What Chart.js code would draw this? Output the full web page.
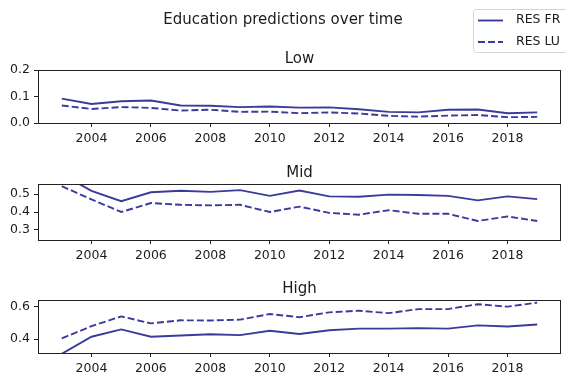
<!DOCTYPE html>
<html>
<head>
<meta charset="utf-8">
<script src="https://cdn.jsdelivr.net/npm/chart.js@4/dist/chart.umd.min.js"></script>
<style>
  html, body { margin: 0; padding: 0; background: #fff; }
  #fig { position: relative; width: 566px; height: 375px; overflow: hidden; }
  #fig canvas { position: absolute; left: 0; }
</style>
</head>
<body>
<div id="fig">
  <canvas id="pLow" width="566" height="150" style="top:0px"></canvas>
  <canvas id="pMid" width="566" height="120" style="top:150px"></canvas>
  <canvas id="pHigh" width="566" height="105" style="top:270px"></canvas>
</div>
<script>
// Years on the x axis
const years = [2003, 2004, 2005, 2006, 2007, 2008, 2009, 2010, 2011,
               2012, 2013, 2014, 2015, 2016, 2017, 2018, 2019];
const yearTicks = [2004, 2006, 2008, 2010, 2012, 2014, 2016, 2018];

// Predicted shares per education level
const lowFR  = [0.092, 0.072, 0.082, 0.085, 0.066, 0.065, 0.060, 0.062, 0.058,
                0.059, 0.052, 0.042, 0.040, 0.050, 0.051, 0.037, 0.040];
const lowLU  = [0.066, 0.053, 0.060, 0.057, 0.047, 0.050, 0.042, 0.043, 0.037,
                0.040, 0.036, 0.027, 0.024, 0.028, 0.030, 0.022, 0.023];
const midFR  = [0.610, 0.518, 0.460, 0.510, 0.518, 0.512, 0.522, 0.490, 0.520,
                0.487, 0.485, 0.497, 0.495, 0.490, 0.465, 0.487, 0.472];
const midLU  = [0.544, 0.470, 0.400, 0.450, 0.440, 0.437, 0.440, 0.400, 0.430,
                0.395, 0.385, 0.410, 0.390, 0.390, 0.350, 0.375, 0.350];
const highFR = [0.310, 0.415, 0.460, 0.415, 0.423, 0.430, 0.425, 0.452, 0.432,
                0.455, 0.465, 0.465, 0.468, 0.465, 0.485, 0.478, 0.490];
const highLU = [0.405, 0.480, 0.540, 0.497, 0.516, 0.515, 0.520, 0.555, 0.535,
                0.565, 0.575, 0.560, 0.585, 0.585, 0.615, 0.600, 0.625];

// Y tick labels per panel
const lowTicks  = [0.0, 0.1, 0.2];
const midTicks  = [0.3, 0.4, 0.5];
const highTicks = [0.4, 0.6];

const seriesNames = ['RES FR', 'RES LU'];
const lineColor = '#3b3b9c';
const textColor = '#1c1c1c';
const fontFamily = '"DejaVu Sans", sans-serif';

const PLOT_LEFT = 38;
const PLOT_RIGHT = 561;

// Panel title + full frame around the plot area
const framePlugin = {
  id: 'frame',
  afterDraw(chart, args, opts) {
    const { ctx, chartArea: a } = chart;
    ctx.save();
    ctx.strokeStyle = '#222';
    ctx.lineWidth = 1;
    ctx.strokeRect(a.left + 0.5, a.top + 0.5, a.right - a.left - 1, a.bottom - a.top);
    ctx.fillStyle = textColor;
    ctx.font = '15px ' + fontFamily;
    ctx.textAlign = 'center';
    ctx.textBaseline = 'alphabetic';
    ctx.fillText(opts.title, (a.left + a.right) / 2, a.top - 7.5);
    ctx.restore();
  }
};

// Figure title and legend, drawn on the top panel
const figureDecor = {
  id: 'figureDecor',
  afterDraw(chart) {
    const ctx = chart.ctx;
    ctx.save();
    ctx.fillStyle = textColor;
    ctx.font = '15px ' + fontFamily;
    ctx.textAlign = 'center';
    ctx.textBaseline = 'alphabetic';
    ctx.fillText('Education predictions over time', 283, 24);

    // legend frame
    ctx.beginPath();
    ctx.roundRect(473.5, 9.5, 100, 43, 3);
    ctx.fillStyle = 'rgba(255,255,255,0.8)';
    ctx.fill();
    ctx.strokeStyle = '#d4d4d4';
    ctx.lineWidth = 1;
    ctx.stroke();

    const rows = [20.5, 42];
    chart.data.datasets.forEach((ds, i) => {
      ctx.beginPath();
      ctx.setLineDash(ds.borderDash || []);
      ctx.strokeStyle = ds.borderColor;
      ctx.lineWidth = ds.borderWidth;
      ctx.moveTo(478, rows[i]);
      ctx.lineTo(503, rows[i]);
      ctx.stroke();
      ctx.setLineDash([]);
      ctx.fillStyle = textColor;
      ctx.font = '12.5px ' + fontFamily;
      ctx.textAlign = 'left';
      ctx.textBaseline = 'middle';
      ctx.fillText(ds.label, 516, rows[i] - 0.5);
    });
    ctx.restore();
  }
};

function makePanel(id, title, fr, lu, yMin, yMax, yTicks, padTop, xAxisH, extra) {
  const canvas = document.getElementById(id);
  return new Chart(canvas, {
    type: 'line',
    data: {
      datasets: [
        { label: seriesNames[0], data: years.map((x, i) => ({ x, y: fr[i] })),
          borderColor: lineColor, borderWidth: 1.9, pointRadius: 0, tension: 0, fill: false, clip: 0 },
        { label: seriesNames[1], data: years.map((x, i) => ({ x, y: lu[i] })),
          borderColor: lineColor, borderWidth: 1.9, borderDash: [7, 3], pointRadius: 0, tension: 0, fill: false, clip: 0 }
      ]
    },
    options: {
      responsive: false,
      devicePixelRatio: 1,
      animation: false,
      events: [],
      layout: { padding: { left: 0, right: 566 - PLOT_RIGHT, top: padTop, bottom: 0 } },
      plugins: {
        legend: { display: false },
        tooltip: { enabled: false },
        title: { display: false },
        frame: { title }
      },
      scales: {
        x: {
          type: 'linear',
          min: 2002.2,
          max: 2019.8,
          afterBuildTicks: s => { s.ticks = yearTicks.map(v => ({ value: v })); },
          afterFit: s => { s.height = xAxisH; },
          grid: { display: true, drawOnChartArea: false, drawTicks: true, tickLength: 4, color: '#222', lineWidth: 1 },
          border: { display: false },
          ticks: {
            maxRotation: 0, autoSkip: false, padding: 4, color: textColor,
            font: { family: fontFamily, size: 12.5 },
            callback: v => String(v)
          }
        },
        y: {
          type: 'linear',
          min: yMin,
          max: yMax,
          afterBuildTicks: s => { s.ticks = yTicks.map(v => ({ value: v })); },
          afterFit: s => { s.width = PLOT_LEFT; },
          grid: { display: true, drawOnChartArea: false, drawTicks: true, tickLength: 4, color: '#222', lineWidth: 1 },
          border: { display: false },
          ticks: {
            padding: 4, color: textColor,
            font: { family: fontFamily, size: 12.5 },
            callback: v => Number(v).toFixed(1)
          }
        }
      }
    },
    plugins: [framePlugin].concat(extra || [])
  });
}

makePanel('pLow',  'Low',  lowFR,  lowLU,  0.0,   0.2,   lowTicks,  70, 27, [figureDecor]);
makePanel('pMid',  'Mid',  midFR,  midLU,  0.244, 0.556, midTicks,  34, 30);
makePanel('pHigh', 'High', highFR, highLU, 0.315, 0.641, highTicks, 30, 22);
</script>
</body>
</html>
